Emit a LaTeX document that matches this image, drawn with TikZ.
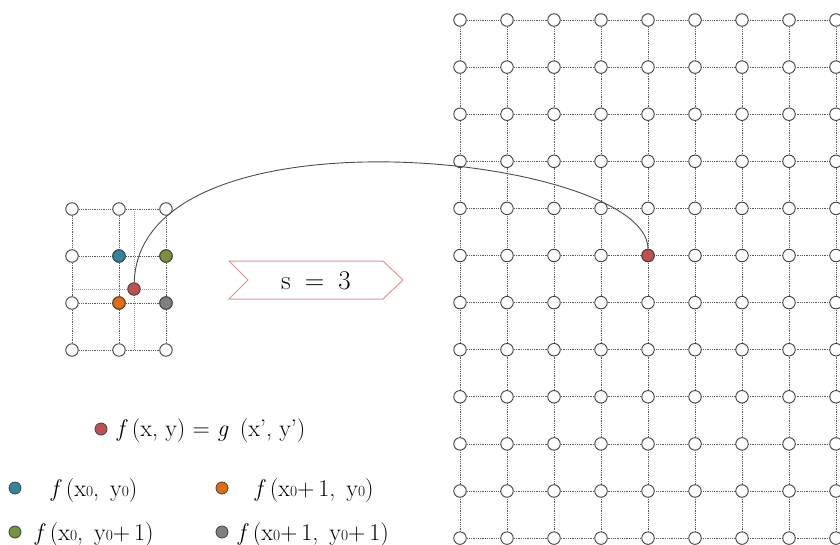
\documentclass[tikz,border=0pt]{standalone}
\usetikzlibrary{backgrounds}
\definecolor{cblue}{RGB}{49,133,155}
\definecolor{cgreen}{RGB}{118,146,60}
\definecolor{corange}{RGB}{228,108,10}
\definecolor{cgray}{RGB}{128,128,128}
\definecolor{cred}{RGB}{192,80,77}
\definecolor{cpink}{RGB}{218,150,148}
\definecolor{credl}{RGB}{238,120,120}
\definecolor{cline}{RGB}{90,90,90}
\newcommand\zr{{\fontsize{15.5}{15.5}\selectfont 0}}
\newcommand\cmsp{,\hspace{11pt}}
\begin{document}
\begin{tikzpicture}[x=1pt,y=-1pt,
  gridline/.style={draw=cline, line width=0.75pt, dash pattern=on 0.9pt off 0.9pt},
  redline/.style={draw=credl, line width=0.9pt, dash pattern=on 1pt off 1pt},
  pt/.style={circle, draw=black!75, line width=0.9pt, minimum size=12.5pt, inner sep=0pt, fill=white},
  dotc/.style={pt, fill=#1},
  lgdot/.style={circle, draw=black!75, line width=0.8pt, minimum size=12pt, inner sep=0pt, fill=#1},
  lgtext/.style={anchor=west, inner sep=0pt, font=\fontsize{24}{24}\selectfont},
  chev/.style={draw=cpink, line width=1pt}
]
\useasboundingbox (0,0) rectangle (840,544);

% right grid
\foreach \i in {0,...,8}
  \foreach \j in {0,...,11}
    {\node[pt] (R-\i-\j) at ({460+47*\i},{20+47.1*\j}) {};}
\node[dotc=cred] (rb) at (R-4-5) {};
\begin{scope}[on background layer]
  \foreach \j in {0,...,11} {\draw[gridline] (R-0-\j.center) -- (R-8-\j.center);}
  \foreach \i in {0,...,8} {\draw[gridline] (R-\i-0.center) -- (R-\i-11.center);}
\end{scope}

% left grid
\foreach \i in {0,...,2}
  \foreach \j in {0,...,3}
    {\node[pt] (L-\i-\j) at ({72+47*\i},{209+47*\j}) {};}
\node[dotc=cblue]   (cb) at (L-1-1) {};
\node[dotc=cgreen]  (cg) at (L-2-1) {};
\node[dotc=corange] (co) at (L-1-2) {};
\node[dotc=cgray]   (cy) at (L-2-2) {};
\node[dotc=cred]    (rs) at (134,289) {};
\begin{scope}[on background layer]
  \foreach \j in {0,...,3} {\draw[gridline] (L-0-\j.center) -- (L-2-\j.center);}
  \foreach \i in {0,...,2} {\draw[gridline] (L-\i-0.center) -- (L-\i-3.center);}
  \draw[redline] (rs |- L-0-0) -- (rs |- L-0-3);
  \draw[redline] (L-0-0 |- rs) -- (L-2-0 |- rs);
\end{scope}

% connecting curve
\draw[black!70, line width=0.9pt] (rs) .. controls (140,100) and (648,155) .. (rb);

% chevron
\draw[chev] (229,261) -- (383,261) -- (403,280) -- (383,299) -- (229,299) -- (248,280) -- cycle;
\node[inner sep=0pt, font=\fontsize{27}{27}\selectfont] (s3) at (316,281) {s\hspace{14pt}=\hspace{14pt}3};

% legend
\node[lgdot=cred] (d0) at (101,429) {};
\node[lgtext] (t0) at (117,431) {\textit{f}\,(x, y) = \textit{g}\, (x’, y’)};
\node[lgdot=cblue] (d1) at (15,488) {};
\node[lgtext] (t1) at (51,491) {\textit{f}\,(x\zr\cmsp y\zr)};
\node[lgdot=corange] (d2) at (222,488) {};
\node[lgtext] (t2) at (255,491) {\textit{f}\,(x\zr+\,1\cmsp y\zr)};
\node[lgdot=cgreen] (d3) at (15,532) {};
\node[lgtext] (t3) at (35,535) {\textit{f}\,(x\zr\cmsp y\zr+\,1)};
\node[lgdot=cgray] (d4) at (222,532) {};
\node[lgtext] (t4) at (238,535) {\textit{f}\,(x\zr+\,1\cmsp y\zr+\,1)};
\end{tikzpicture}
\end{document}
